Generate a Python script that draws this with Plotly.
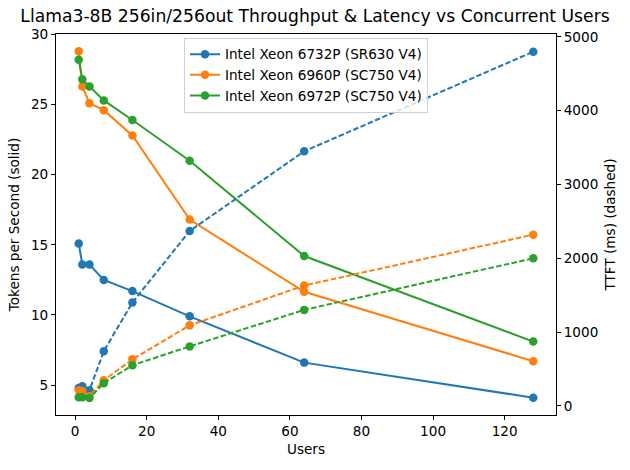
import plotly.graph_objects as go

users = [1, 2, 4, 8, 16, 32, 64, 128]
names = ["Intel Xeon 6732P (SR630 V4)", "Intel Xeon 6960P (SC750 V4)", "Intel Xeon 6972P (SC750 V4)"]
colors = ["#1f77b4", "#ff7f0e", "#2ca02c"]

tps_6732 = [15.1, 13.6, 13.6, 12.5, 11.7, 9.9, 6.6, 4.1]
tps_6960 = [28.8, 26.3, 25.1, 24.6, 22.8, 16.8, 11.65, 6.7]
tps_6972 = [28.2, 26.8, 26.3, 25.3, 23.9, 21.0, 14.2, 8.1]

ttft_6732 = [240, 265, 210, 740, 1400, 2370, 3450, 4800]
ttft_6960 = [210, 200, 130, 345, 630, 1090, 1630, 2320]
ttft_6972 = [117, 117, 105, 305, 550, 805, 1300, 2000]

tps = [tps_6732, tps_6960, tps_6972]
ttft = [ttft_6732, ttft_6960, ttft_6972]

FONT = "DejaVu Sans"
FS = 13.6
fig = go.Figure()

for n, c, t in zip(names, colors, tps):
    fig.add_trace(go.Scatter(x=users, y=t, name=n, mode="lines+markers",
                             line=dict(color=c, width=2), marker=dict(color=c, size=8.5),
                             yaxis="y"))
for n, c, t in zip(names, colors, ttft):
    fig.add_trace(go.Scatter(x=users, y=t, name=n, mode="lines+markers", showlegend=False,
                             line=dict(color=c, width=2, dash="5.5px,2.4px"),
                             marker=dict(color=c, size=8.5), yaxis="y2"))

axcommon = dict(showline=True, linecolor="black", linewidth=1, ticks="outside", ticklen=4,
                tickcolor="black", showgrid=False, zeroline=False,
                tickfont=dict(family=FONT, size=FS, color="black"))

fig.update_layout(
    width=630, height=470,
    margin=dict(l=56, r=74, t=34, b=55),
    paper_bgcolor="white", plot_bgcolor="white",
    font=dict(family=FONT, size=FS, color="black"),
    title=dict(text="Llama3-8B 256in/256out Throughput & Latency vs Concurrent Users",
               x=0.5, xanchor="center", y=0.967, yanchor="middle",
               font=dict(family=FONT, size=17.2, color="black")),
    xaxis=dict(range=[-5.35, 134.35], tickvals=[0, 20, 40, 60, 80, 100, 120], mirror=True,
               title=dict(text="Users", font=dict(family=FONT, size=FS), standoff=6), **axcommon),
    yaxis=dict(range=[2.865, 30.035], tickvals=[5, 10, 15, 20, 25, 30],
               title=dict(text="Tokens per Second (solid)", font=dict(family=FONT, size=FS), standoff=8),
               **axcommon),
    yaxis2=dict(range=[-125, 5040], tickvals=[0, 1000, 2000, 3000, 4000, 5000], overlaying="y",
                side="right",
                title=dict(text="TTFT (ms) (dashed)", font=dict(family=FONT, size=FS), standoff=8),
                **axcommon),
    legend=dict(x=0.5, xanchor="center", y=0.99, yanchor="top",
                bgcolor="rgba(255,255,255,0.8)", bordercolor="#d0d0d0", borderwidth=1,
                font=dict(family=FONT, size=FS), tracegroupgap=0, itemwidth=30),
    showlegend=True,
)

fig.write_html("out.html")
